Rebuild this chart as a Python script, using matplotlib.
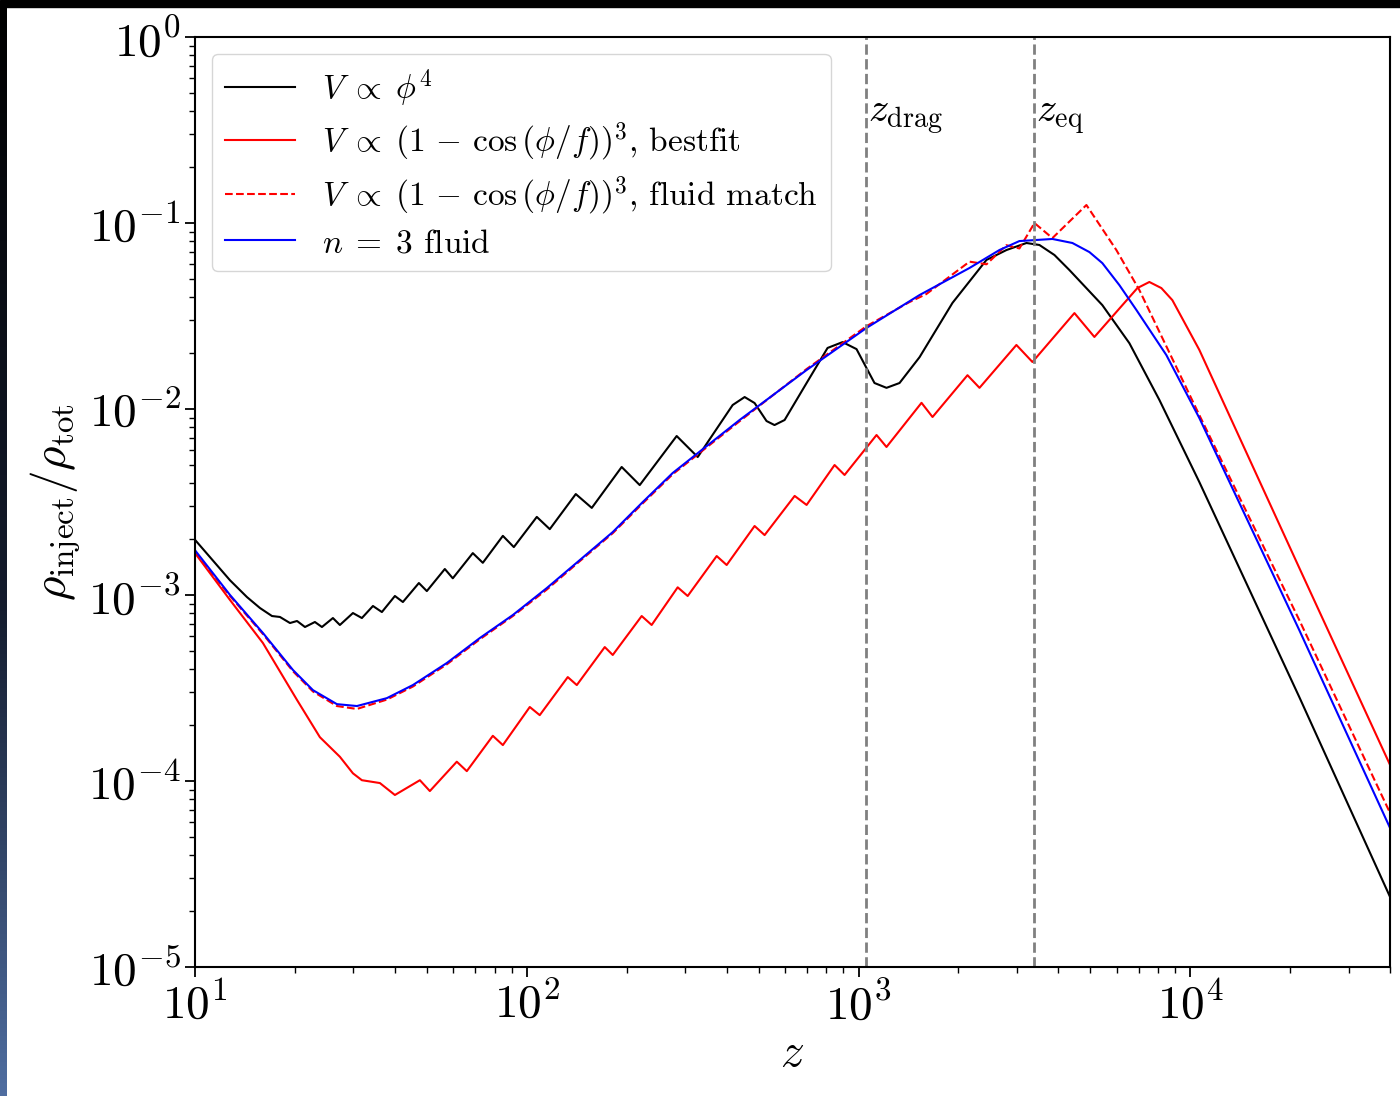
import matplotlib
matplotlib.use("Agg")
import matplotlib.pyplot as plt
import numpy as np
from matplotlib.patches import Rectangle

plt.rcParams['font.family'] = 'serif'
plt.rcParams['font.serif'] = ['cmr10', 'DejaVu Serif']
plt.rcParams['mathtext.fontset'] = 'cm'
plt.rcParams['axes.formatter.use_mathtext'] = True
plt.rcParams['axes.unicode_minus'] = False

# V ~ phi^4
z_phi4 = [10, 12.75, 14.34, 15.7, 17.06, 18.03, 19.33, 20.3, 21.45, 22.98, 24.13,
          26.04, 27.33, 29.92, 31.84, 34.38, 36.58, 40.04, 42.32, 47.29, 49.97,
          56.62, 59.84, 68.75, 73.7, 84.7, 91.4, 107.2, 117.3, 140.5, 157, 193.2,
          219, 283, 327.5, 417.4, 453.6, 486, 528, 558, 598.6, 697.3, 806.5, 895,
          986, 1057, 1117, 1214, 1329, 1527, 1919, 2429, 2792, 3207, 3509, 3895,
          4320, 5430, 6551, 8066, 10645, 21300, 40000]
rho_phi4 = [1.98e-3, 1.20e-3, 9.75e-4, 8.51e-4, 7.71e-4, 7.62e-4, 7.07e-4, 7.25e-4,
            6.73e-4, 7.16e-4, 6.73e-4, 7.52e-4, 6.90e-4, 8.00e-4, 7.52e-4, 8.73e-4,
            8.10e-4, 9.88e-4, 9.17e-4, 1.16e-3, 1.05e-3, 1.38e-3, 1.23e-3, 1.68e-3,
            1.49e-3, 2.08e-3, 1.81e-3, 2.63e-3, 2.26e-3, 3.49e-3, 2.94e-3, 4.88e-3,
            3.90e-3, 7.16e-3, 5.52e-3, 1.051e-2, 1.16e-2, 1.077e-2, 8.62e-3, 8.20e-3,
            8.73e-3, 1.38e-2, 2.13e-2, 2.29e-2, 2.10e-2, 1.66e-2, 1.38e-2, 1.30e-2,
            1.38e-2, 1.90e-2, 3.72e-2, 6.33e-2, 7.16e-2, 7.81e-2, 7.62e-2, 6.73e-2,
            5.59e-2, 3.62e-2, 2.26e-2, 1.12e-2, 4.05e-3, 2.83e-4, 2.38e-5]

# V ~ (1 - cos(phi/f))^3, bestfit
z_best = [10, 12.75, 16.02, 20.29, 23.79, 27.33, 29.92, 31.84, 36.08, 40.04, 47.62,
          51.03, 61.52, 65.95, 79.0, 84.7, 102.1, 109.4, 132.9, 141.5, 171.8, 181.6,
          222, 237.9, 285, 305.5, 373.6, 400.4, 486, 521, 641.8, 697.3, 846.7, 907.5,
          1133, 1214, 1548, 1671, 2130, 2315, 2991, 3343, 4474, 5139, 6925, 7526,
          8180, 8828, 10645, 21300, 40000]
rho_best = [1.68e-3, 9.40e-4, 5.52e-4, 2.73e-4, 1.72e-4, 1.35e-4, 1.10e-4, 1.01e-4,
            9.75e-5, 8.41e-5, 1.01e-4, 8.83e-5, 1.27e-4, 1.13e-4, 1.75e-4, 1.56e-4,
            2.50e-4, 2.26e-4, 3.62e-4, 3.28e-4, 5.25e-4, 4.76e-4, 7.71e-4, 6.90e-4,
            1.10e-3, 9.88e-4, 1.62e-3, 1.45e-3, 2.35e-3, 2.10e-3, 3.41e-3, 3.05e-3,
            5.00e-3, 4.42e-3, 7.25e-3, 6.25e-3, 1.08e-2, 9.06e-3, 1.52e-2, 1.30e-2,
            2.21e-2, 1.79e-2, 3.28e-2, 2.44e-2, 4.47e-2, 4.82e-2, 4.47e-2, 3.85e-2,
            2.08e-2, 1.40e-3, 1.22e-4]

# V ~ (1 - cos(phi/f))^3, fluid match
z_match = [10, 12.75, 16.02, 19.74, 22.67, 26.77, 30.76, 37.87, 45.36, 57.41, 72.18,
           90.8, 114.9, 144.4, 181.6, 223.6, 275.3, 438, 697, 1057, 1420, 1600, 2160,
           2430, 2790, 3054, 3390, 3840, 4862, 5985, 7022, 10645, 21300, 40000]
rho_match = [1.70e-3, 9.88e-4, 6.17e-4, 3.89e-4, 3.03e-4, 2.53e-4, 2.44e-4, 2.74e-4,
             3.22e-4, 4.24e-4, 5.78e-4, 7.71e-4, 1.07e-3, 1.52e-3, 2.15e-3, 3.11e-3,
             4.46e-3, 8.6e-3, 1.64e-2, 2.79e-2, 3.75e-2, 4.15e-2, 6.2e-2, 6.0e-2,
             7.6e-2, 7.3e-2, 0.100, 8.30e-2, 0.125, 7.16e-2, 4.36e-2, 9.28e-3, 7.34e-4,
             6.73e-5]

# n = 3 fluid
z_fluid = [10, 12.75, 16.02, 19.74, 22.67, 26.77, 30.76, 37.87, 45.36, 57.41, 72.18,
           90.8, 114.9, 144.4, 181.6, 223.6, 275.3, 438, 697, 1057, 1527, 2159, 2659,
           3054, 3840, 4412, 4964, 5430, 6110, 6877, 8468, 10645, 21300, 40000]
rho_fluid = [1.74e-3, 1.00e-3, 6.25e-4, 3.95e-4, 3.08e-4, 2.59e-4, 2.53e-4, 2.79e-4,
             3.28e-4, 4.31e-4, 5.87e-4, 7.81e-4, 1.09e-3, 1.54e-3, 2.18e-3, 3.16e-3,
             4.53e-3, 8.73e-3, 1.62e-2, 2.73e-2, 4.10e-2, 5.73e-2, 7.16e-2, 8.00e-2,
             8.21e-2, 7.81e-2, 6.98e-2, 6.09e-2, 4.64e-2, 3.41e-2, 1.95e-2, 8.95e-3,
             6.48e-4, 5.59e-5]

z_drag = 1055
z_eq = 3390

fig = plt.figure(figsize=(14, 10.96), dpi=100)
ax = fig.add_axes([0.1393, 0.1177, 0.8536, 0.8485])

lw = 1.5
ax.plot(z_phi4, rho_phi4, color='k', lw=lw, label=r'$V\;\propto\;\phi^4$')
ax.plot(z_best, rho_best, color='r', lw=lw,
        label=r'$V\;\propto\;(1\,-\,\cos{(\phi/f)})^3$, bestfit')
ax.plot(z_match, rho_match, color='r', lw=lw, ls='--',
        label=r'$V\;\propto\;(1\,-\,\cos{(\phi/f)})^3$, fluid match')
ax.plot(z_fluid, rho_fluid, color='b', lw=lw, label=r'$n\;=\;3$ fluid')

ax.axvline(z_drag, color='gray', ls='--', lw=2)
ax.axvline(z_eq, color='gray', ls='--', lw=2)
ax.text(z_drag * 1.01, 0.36, r'$z_{\rm drag}$', fontsize=29, va='center')
ax.text(z_eq * 1.01, 0.36, r'$z_{\rm eq}$', fontsize=29, va='center')

ax.set_xscale('log')
ax.set_yscale('log')
ax.set_xlim(10, 4e4)
ax.set_ylim(1e-5, 1)

ax.set_xlabel(r'$z$', fontsize=34)
ax.set_ylabel(r'$\rho_{\rm inject}/\rho_{\rm tot}$', fontsize=34)
ax.tick_params(which='major', labelsize=34, length=7, width=1.3)
ax.tick_params(which='minor', length=4, width=1.0)
for s in ax.spines.values():
    s.set_linewidth(1.5)

ax.legend(loc='upper left', fontsize=24, handlelength=2.1, labelspacing=0.35)

# screenshot edges
fig.patches.append(Rectangle((0, 1 - 7 / 1096), 1, 7 / 1096, transform=fig.transFigure,
                             color='black', zorder=10))
band = fig.add_axes([0, 0, 7 / 1400, 1 - 7 / 1096])
grad = np.linspace(0, 1, 256)[:, None]
cmap = matplotlib.colors.LinearSegmentedColormap.from_list(
    'edge', [(0.0, (0.31, 0.43, 0.63)), (0.45, (0.08, 0.11, 0.18)), (1.0, (0, 0, 0))])
band.imshow(grad, aspect='auto', cmap=cmap, origin='lower')
band.set_axis_off()

fig.savefig('out.png', dpi=100)
